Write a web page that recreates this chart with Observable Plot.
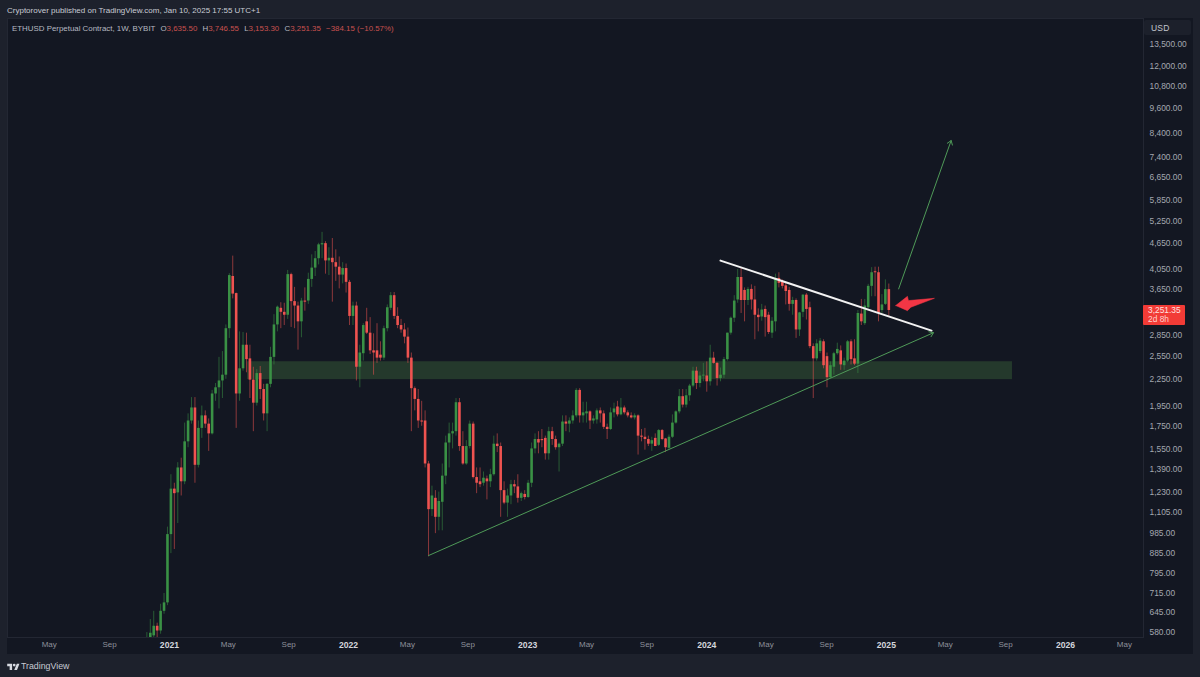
<!DOCTYPE html>
<html>
<head>
<meta charset="utf-8">
<script src="https://cdn.jsdelivr.net/npm/d3@7"></script>
<script src="https://cdn.jsdelivr.net/npm/@observablehq/plot@0.6"></script>
<style>
html,body{margin:0;padding:0;background:#1d212c;width:1200px;height:677px;overflow:hidden;font-family:"Liberation Sans",Inter,sans-serif}
#stage{position:relative;width:1200px;height:677px}
.abs{position:absolute;white-space:nowrap}
#pane{left:7px;top:18px;width:1186px;height:636px;background:#131722}
#chart{left:0;top:18px}
#chart svg{display:block;background:transparent!important}
#head{left:7px;top:5px;font-size:8px;color:#c9ccd4;line-height:11px}
#ohlc{left:12px;top:23px;font-size:7.9px;color:#b6b9c1;line-height:11px}
#ohlc b{font-weight:400;color:#c8514f}
#ohlc i{font-style:normal;margin-left:3px}
#usd{left:1144px;top:20px;width:47px;height:15px;background:#1c202b;border-radius:2px;font-size:8.5px;color:#c3c6ce;line-height:16px;padding-left:7px;box-sizing:border-box;letter-spacing:.2px}
#tag{left:1143px;top:305px;width:42px;height:20px;background:#f23b36;border-radius:1px;color:#fff;font-size:8.4px;line-height:9px;padding-left:5px;box-sizing:border-box}
#tag div:first-child{padding-top:1px;color:#ffe3e0}
#tag div:last-child{color:#ffd2cc}
#brand{left:21px;top:660px;font-size:8.8px;color:#c7cad2;line-height:13px}
#logo{left:7px;top:663px}
</style>
</head>
<body>
<div id="stage">
  <div id="pane" class="abs"></div>
  <div id="chart" class="abs"></div>
  <div id="head" class="abs">Cryptorover published on TradingView.com, Jan 10, 2025 17:55 UTC+1</div>
  <div id="ohlc" class="abs">ETHUSD Perpetual Contract, 1W, BYBIT <i>O</i><b>3,635.50</b> <i>H</i><b>3,746.55</b> <i>L</i><b>3,153.30</b> <i>C</i><b>3,251.35</b> <b style="margin-left:3px">−384.15 (−10.57%)</b></div>
  <div id="usd" class="abs">USD</div>
  <div id="tag" class="abs"><div>3,251.35</div><div>2d 8h</div></div>
  <svg id="logo" class="abs" width="13" height="7" viewBox="0 0 36 20"><path fill="#d6d9e0" d="M14 20H7V9H0V2h14v18zM28 20h-8l7.5-18H35L28 20z"/><circle cx="20" cy="6" r="4" fill="#d6d9e0"/></svg>
  <div id="brand" class="abs">TradingView</div>
</div>
<script>
// Weekly candles, first bar is the week of 16 Nov 2020
const firstWeek = new Date(Date.UTC(2020, 10, 16));
const opens = [
460,550,570,600,585,650,680,980,1250,1225,
1400,1300,1610,1800,1930,1420,1730,1850,1770,1680,
2080,2150,2230,2300,2950,3900,3560,2080,2380,2700,
2510,2240,1980,2320,2130,1870,2190,2530,3010,3290,
3220,3170,3940,3410,3330,3060,3420,3420,3840,4080,
4290,4620,4650,4240,4300,4200,4100,3930,4070,3780,
3150,3330,2400,2580,3060,2880,2620,2620,2560,2520,
2950,3290,3520,3150,3000,2930,2820,2520,2140,2020,
1800,1800,1430,1120,1190,1075,1165,1340,1600,1680,
1700,1985,1570,1430,1570,1770,1330,1300,1290,1320,
1300,1350,1590,1570,1240,1160,1205,1280,1265,1190,
1215,1195,1290,1550,1630,1630,1640,1510,1700,1630,
1560,1590,1790,1770,1800,1850,2120,1850,1870,1890,
1800,1810,1900,1870,1740,1720,1880,1940,1860,1930,
1880,1850,1830,1850,1660,1650,1630,1590,1640,1580,
1710,1635,1555,1650,1780,1890,2050,1960,2060,2170,
2350,2200,2290,2290,2220,2520,2450,2260,2300,2500,
2880,3120,3440,3880,3620,3430,3640,3440,3170,3140,
3270,3170,2880,3060,3860,3790,3710,3620,3360,3430,
2930,3220,3530,3300,2680,2510,2610,2750,2540,2270,
2400,2580,2620,2420,2480,2750,2510,2440,3190,3030,
3300,3700,4000,3980,3250,3360,3635.5];
const highs = [
580,622,650,610,675,715,1020,1350,1290,1440,
1475,1780,1870,2040,2040,1800,1950,1900,1820,2120,
2200,2530,2610,3010,3960,4350,3570,2900,2890,2880,
2700,2400,2370,2410,2190,2200,2670,3180,3330,3390,
3380,4030,3970,3680,3400,3470,3670,3970,4380,4460,
4660,4940,4700,4550,4780,4500,4330,4200,4170,3820,
3400,3400,2700,3030,3290,3130,2870,3030,2750,2990,
3350,3580,3580,3300,3100,3030,2960,2590,2160,2130,
2000,1900,1450,1270,1240,1230,1430,1660,1780,1780,
2030,2030,1700,1620,1800,1790,1400,1400,1370,1340,
1390,1660,1680,1600,1300,1250,1310,1310,1350,1230,
1240,1310,1600,1680,1700,1720,1660,1740,1740,1660,
1600,1850,1850,1830,1900,2140,2140,1990,1990,1900,
1850,1920,1930,1900,1770,1930,1980,2000,2030,1950,
1900,1880,1870,1860,1720,1730,1660,1650,1680,1720,
1720,1640,1670,1860,1900,2130,2130,2130,2190,2400,
2400,2340,2450,2470,2700,2600,2460,2390,2530,2880,
3140,3520,4050,4080,3670,3680,3730,3700,3280,3360,
3330,3220,3130,3950,3980,3830,3780,3680,3490,3460,
3220,3540,3560,3400,2720,2780,2800,2780,2590,2470,
2600,2730,2690,2520,2770,2780,2780,3250,3450,3450,
3740,4090,4100,4100,3540,3830,3746.55];
const lows = [
440,490,560,535,575,640,670,885,905,1040,
1205,1280,1560,1770,1290,1400,1640,1730,1530,1670,
2000,1920,2030,2250,2800,3460,1730,2000,2350,2330,
2030,1700,1950,2020,1800,1700,2150,2430,2900,2950,
3000,3100,2970,2950,2630,2810,3240,3360,3680,3900,
4150,4290,3950,3920,3400,3800,3650,3750,3570,3000,
3000,2230,2150,2480,2860,2570,2300,2450,2480,2490,
2900,3250,3100,2950,2880,2720,2450,1700,1900,1730,
1750,1400,870,1080,985,1000,1000,1280,1400,1550,
1660,1530,1420,1420,1550,1320,1220,1260,1270,1180,
1260,1340,1520,1075,1150,1075,1150,1220,1160,1170,
1180,1190,1260,1510,1510,1560,1460,1460,1580,1540,
1370,1570,1700,1690,1770,1830,1780,1780,1780,1720,
1770,1770,1780,1720,1630,1710,1830,1840,1850,1860,
1830,1820,1810,1500,1610,1540,1570,1530,1570,1570,
1620,1520,1540,1640,1770,1870,1930,1930,2000,2150,
2130,2150,2220,2100,2170,2440,2170,2220,2260,2480,
2850,3050,3380,3200,3060,3340,3260,2780,2900,3070,
2820,2860,2800,2900,3670,3650,3350,3240,3170,2800,
2830,3130,3090,2650,2030,2480,2580,2380,2150,2260,
2300,2560,2360,2360,2460,2430,2420,2320,3000,3000,
3280,3500,3500,3060,3200,3340,3153.3];
const closes = [
550,578,600,585,650,680,980,1250,1220,1400,
1300,1610,1800,1930,1420,1730,1850,1770,1680,2080,
2150,2230,2300,2950,3920,3550,2080,2380,2700,2500,
2240,1980,2320,2130,1870,2190,2530,3010,3310,3220,
3170,3940,3410,3330,3060,3420,3400,3840,4080,4290,
4620,4650,4240,4300,4200,4100,3930,4070,3780,3150,
3330,2400,2590,3000,2880,2620,2590,2520,2520,2950,
3300,3520,3150,3000,2930,2820,2520,2140,2020,1800,
1790,1430,1120,1205,1075,1170,1340,1600,1680,1700,
1985,1570,1430,1570,1770,1330,1290,1280,1325,1300,
1350,1590,1570,1240,1160,1205,1280,1265,1190,1220,
1195,1290,1550,1630,1600,1620,1510,1700,1630,1560,
1590,1790,1770,1800,1850,2120,1850,1880,1890,1800,
1820,1900,1870,1740,1720,1880,1920,1860,1930,1880,
1850,1830,1850,1660,1650,1630,1590,1620,1570,1710,
1630,1560,1650,1780,1890,2050,1960,2060,2170,2350,
2200,2290,2300,2220,2520,2450,2260,2300,2500,2880,
3120,3420,3880,3430,3430,3640,3440,3170,3130,3260,
3130,2890,3070,3860,3760,3700,3600,3360,3430,2930,
3210,3530,3270,2680,2510,2720,2760,2420,2270,2420,
2580,2640,2430,2480,2750,2500,2440,3200,3060,3330,
3700,3980,3980,3200,3350,3635.5,3251.35];

const priceTicks = [13500,12000,10800,9600,8400,7400,6650,5850,5250,4650,4050,3650,2850,2550,2250,1950,1750,1550,1390,1230,1105,985,885,795,715,645,580];
const monthTicks = ["2020-05-01","2020-09-01","2021-05-01","2021-09-01","2022-05-01","2022-09-01","2023-05-01","2023-09-01","2024-05-01","2024-09-01","2025-05-01","2025-09-01","2026-05-01"].map(d=>new Date(d));
const yearTicks = ["2021-01-01","2022-01-01","2023-01-01","2024-01-01","2025-01-01","2026-01-01"].map(d=>new Date(d));

// Support zone and drawn annotations, in price and date
const zone = [{from:new Date("2021-06-09"), to:new Date("2025-09-15"), low:2246, high:2472}];
const risingLine = [{d1:new Date("2022-06-13"), p1:876, d2:new Date("2025-04-07"), p2:2887}];
const targetArrow = [{d1:new Date("2025-01-26"), p1:3650, d2:new Date("2025-05-13"), p2:8075}];
const fallingLine = [{d:new Date("2024-01-29"), p:4247},{d:new Date("2025-04-03"), p:2920}];
const redArrow = [
 {d:new Date("2025-01-20"),p:3339},{d:new Date("2025-02-13"),p:3508},{d:new Date("2025-02-15"),p:3429},
 {d:new Date("2025-04-09"),p:3471},{d:new Date("2025-02-20"),p:3309},{d:new Date("2025-02-13"),p:3249},
 {d:new Date("2025-01-20"),p:3339}];

const UP = "#3a9145", DOWN = "#ef5350";
const candles = opens.map((o,i)=>({
  date:new Date(firstWeek.getTime()+i*7*864e5), o, h:highs[i], l:lows[i], c:closes[i],
  col: closes[i]>=o ? UP : DOWN
}));

const monthFmt = d3.utcFormat("%b"), yearFmt = d3.utcFormat("%Y");
const chart = Plot.plot({
  width:1200, height:636,
  marginLeft:7, marginRight:57, marginTop:0, marginBottom:17,
  style:{background:"transparent", fontFamily:"'Liberation Sans', Inter, sans-serif"},
  x:{type:"utc", domain:[new Date("2020-02-06"), new Date("2026-06-09")]},
  y:{type:"log", domain:[565,15516], axis:null},
  marks:[
    Plot.frame({stroke:"#232733", fill:"#131722"}),
    Plot.rect(zone,{x1:"from",x2:"to",y1:"low",y2:"high",fill:"#24392c"}),
    Plot.ruleX(candles,{x:"date",y1:"l",y2:"h",stroke:"col",strokeWidth:1,strokeOpacity:0.55,clip:true}),
    Plot.ruleX(candles,{x:"date",y1:"o",y2:"c",stroke:"col",strokeWidth:2.6,clip:true}),
    Plot.arrow(risingLine,{x1:"d1",y1:"p1",x2:"d2",y2:"p2",bend:0,stroke:"#4f9a58",strokeWidth:1,headLength:7,headAngle:70}),
    Plot.arrow(targetArrow,{x1:"d1",y1:"p1",x2:"d2",y2:"p2",bend:0,stroke:"#4f9a58",strokeWidth:1,headLength:7,headAngle:70}),
    Plot.line(fallingLine,{x:"d",y:"p",stroke:"#f2f2f2",strokeWidth:2}),
    Plot.line(redArrow,{x:"d",y:"p",stroke:"#f23645",fill:"#f23645",strokeWidth:0.5}),
    Plot.text(priceTicks,{y:d=>d,frameAnchor:"right",dx:6,textAnchor:"start",text:d3.format(",.2f"),fill:"#a4a7b0",fontSize:8.4}),
    Plot.axisX({ticks:monthTicks,tickSize:0,tickPadding:4,label:null,tickFormat:monthFmt,fill:"#8d909a",fontSize:8}),
    Plot.axisX({ticks:yearTicks,tickSize:0,tickPadding:4,label:null,tickFormat:yearFmt,fill:"#d4d6dd",fontSize:8.6,fontWeight:"bold"})
  ]
});
document.getElementById("chart").appendChild(chart);
</script>
</body>
</html>
